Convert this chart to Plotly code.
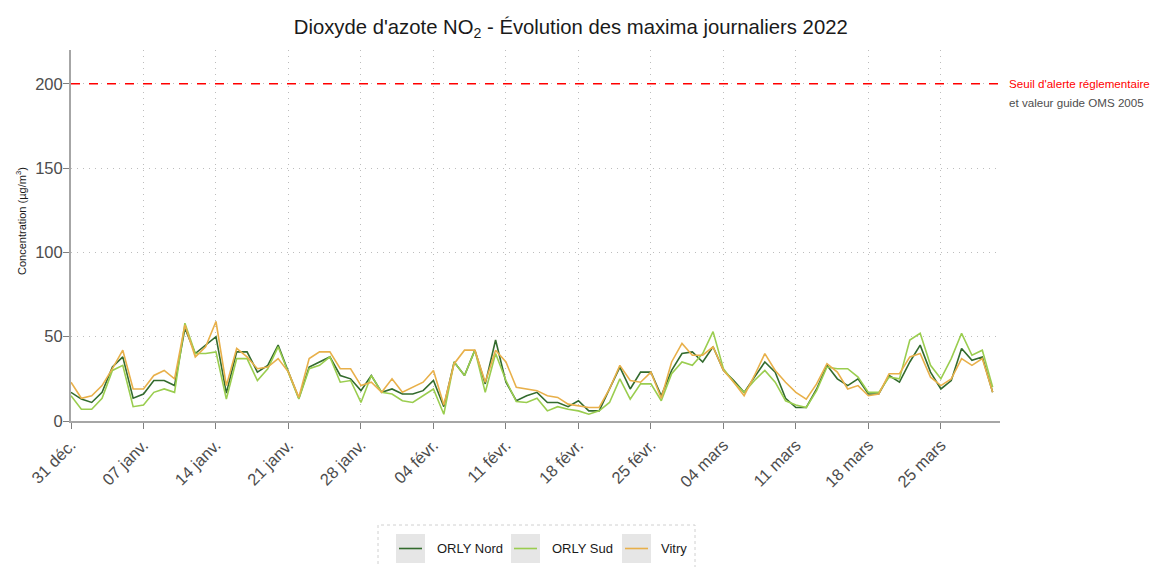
import pandas as pd
import plotly.graph_objects as go

dates = pd.date_range("2021-12-31", periods=90, freq="D")

orly_nord = [17, 13, 11, 17, 32, 38, 13.5, 16, 24, 24,
             21, 55, 40, 45, 50, 16.5, 41, 41, 29, 33,
             45, 29, 13.5, 32, 35, 38, 27, 25, 18, 27,
             17, 19, 16, 16, 18, 24, 8.5, 35, 27, 42,
             22, 48, 23, 12, 15, 17, 11, 11, 8.5, 12,
             6, 6, 19, 32, 19, 29, 29, 15, 30, 40,
             41, 35, 44, 30, 24, 17, 26, 35, 29, 13.5,
             8, 8, 19, 33, 25, 21, 25, 16, 16, 27,
             23, 35, 45, 29, 19, 24, 43, 36, 38, 17]
orly_sud = [15, 7, 7, 13.5, 30, 33, 8.5, 9.5, 17, 19,
            17, 58, 40, 40, 41, 13, 37, 37, 24, 31,
            44, 29, 13, 31, 33, 38, 23, 24, 11, 27,
            17, 16, 12, 11, 15, 19, 4, 35, 27, 42,
            17, 40, 24, 11.5, 11, 13.5, 6, 8.5, 7, 6,
            4, 6, 11, 25, 13, 22, 22, 12, 28, 35,
            33, 40, 53, 31, 23, 17, 24, 30, 23, 12,
            9.5, 8, 18, 32, 31, 31, 26, 17, 17, 26,
            25, 48, 52, 33, 25, 37, 52, 39, 42, 20]
vitry = [23, 13.5, 15, 21, 31, 42, 19, 19, 27, 30,
         25, 57, 38, 44, 59, 21, 43, 38, 31, 32,
         37, 29, 14, 37, 41, 41, 31, 31, 21, 23,
         17, 25, 17, 20, 23, 30, 9.5, 34, 42, 42,
         23, 42, 35, 20, 19, 18, 15, 14, 10, 9,
         8, 8, 19, 33, 24, 23, 29, 13.5, 35, 46,
         39, 39, 44, 30, 23, 15, 27, 40, 30, 23,
         17, 13, 22, 34, 29, 19, 21, 15, 16, 28,
         28, 38, 40, 26, 21, 25, 37, 33, 37, 17]

series_names = ["ORLY Nord", "ORLY Sud", "Vitry"]
series_colors = ["#336B2E", "#9ACD4F", "#E8B04A"]

tick_dates = pd.date_range("2021-12-31", periods=13, freq="7D")
tick_labels = ["31 déc.", "07 janv.", "14 janv.", "21 janv.", "28 janv.", "04 févr.",
               "11 févr.", "18 févr.", "25 févr.", "04 mars", "11 mars", "18 mars", "25 mars"]
y_ticks = [0, 50, 100, 150, 200]
threshold = 200

# plot area in pixels
W, H = 1153, 567
L, R, T, B = 71, 1000, 50, 421
PW, PH = R - L, B - T


def px(x):
    return (x - L) / PW


def py(y):
    return (B - y) / PH


fig = go.Figure()
for name, vals, col in zip(series_names, [orly_nord, orly_sud, vitry], series_colors):
    fig.add_trace(go.Scatter(x=dates, y=vals, name=name, mode="lines", showlegend=False,
                             line=dict(color=col, width=1.6)))

fig.add_shape(type="line", xref="paper", yref="y", x0=0, x1=px(1003), y0=threshold, y1=threshold,
              line=dict(color="#FF0000", width=1.5, dash="dash"))
fig.add_annotation(xref="paper", yref="y", x=px(1007), y=threshold, xanchor="left", yanchor="middle",
                   text="Seuil d'alerte réglementaire", showarrow=False,
                   font=dict(color="#FF0000", size=11.6))
fig.add_annotation(xref="paper", yref="paper", x=px(1007), y=py(102), xanchor="left", yanchor="middle",
                   text="et valeur guide OMS 2005", showarrow=False,
                   font=dict(color="#4D4D4D", size=11.6))

# y-axis title
fig.add_annotation(xref="paper", yref="paper", x=px(21), y=py(221), xanchor="center", yanchor="middle",
                   text="Concentration (µg/m<sup>3</sup>)", textangle=-90, showarrow=False,
                   font=dict(size=11, color="#1A1A1A"))

# legend (drawn as shapes + text, ggplot style keys)
fig.add_shape(type="rect", xref="paper", yref="paper", x0=px(378), x1=px(695), y0=py(575), y1=py(525),
              line=dict(color="#D0D0D0", width=1, dash="dot"), fillcolor="rgba(0,0,0,0)")
key_x = [396, 511, 622]
text_x = [435, 550, 659]
for name, col, kx, tx in zip(series_names, series_colors, key_x, text_x):
    fig.add_shape(type="rect", xref="paper", yref="paper", x0=px(kx), x1=px(kx + 29),
                  y0=py(563), y1=py(534), line=dict(width=0), fillcolor="#E6E6E6")
    fig.add_shape(type="line", xref="paper", yref="paper", x0=px(kx + 3), x1=px(kx + 26),
                  y0=py(548.5), y1=py(548.5), line=dict(color=col, width=1.6))
    fig.add_annotation(xref="paper", yref="paper", x=px(tx), y=py(548.5), xanchor="left",
                       yanchor="middle", text=name, showarrow=False,
                       font=dict(size=13, color="#1A1A1A"))

fig.update_layout(
    width=W, height=H,
    margin=dict(l=L, r=W - R, t=T, b=H - B),
    paper_bgcolor="white", plot_bgcolor="white",
    font=dict(family="Liberation Sans, Arial, sans-serif", color="#4D4D4D"),
    title=dict(text="Dioxyde d'azote NO<sub>2</sub> - Évolution des maxima journaliers 2022",
               x=0.495, xanchor="center", y=1 - 27 / H, yanchor="middle",
               font=dict(size=20.3, color="#1A1A1A")),
    showlegend=False,
    xaxis=dict(range=[pd.Timestamp("2021-12-31 00:00"), pd.Timestamp("2022-03-30 17:00")],
               tickmode="array", tickvals=tick_dates, ticktext=tick_labels, tickangle=-45,
               showgrid=True, gridcolor="#BDBDBD", gridwidth=1, griddash="1px,5px",
               showline=True, linecolor="#A6A6A6", linewidth=2, automargin=False,
               ticks="outside", ticklen=6, tickcolor="#7F7F7F", tickwidth=1,
               tickfont=dict(size=16.5, color="#4D4D4D"), zeroline=False),
    yaxis=dict(range=[0, 220], tickmode="array", tickvals=y_ticks,
               showgrid=True, gridcolor="#BDBDBD", gridwidth=1, griddash="1px,5px",
               showline=True, linecolor="#A6A6A6", linewidth=2, automargin=False,
               ticks="outside", ticklen=6, tickcolor="#7F7F7F", tickwidth=1,
               ticklabelstandoff=-3,
               tickfont=dict(size=16.5, color="#4D4D4D"), zeroline=False),
)

fig.write_html("out.html", config={"displayModeBar": False},
               post_script="document.body.style.margin='0px';")
